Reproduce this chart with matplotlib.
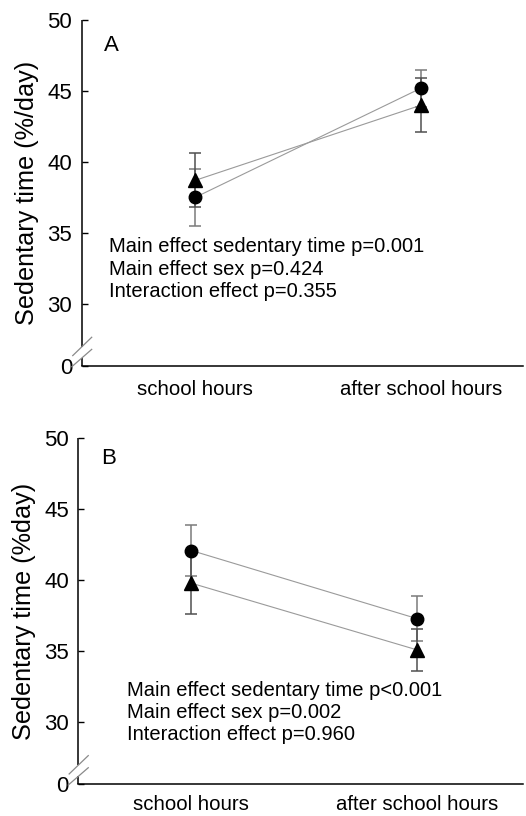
import matplotlib
matplotlib.use("Agg")
import matplotlib.pyplot as plt

plt.rcParams["font.family"] = ["Liberation Sans", "DejaVu Sans"]

# DATA
categories = ["school hours", "after school hours"]

# panel A
a_circle = [37.5, 45.2]
a_circle_err = [2.0, 1.3]
a_tri = [38.7, 44.0]
a_tri_err = [1.9, 1.9]
a_stats = ["Main effect sedentary time p=0.001",
           "Main effect sex p=0.424",
           "Interaction effect p=0.355"]

# panel B
b_circle = [42.1, 37.3]
b_circle_err = [1.8, 1.6]
b_tri = [39.8, 35.1]
b_tri_err = [2.2, 1.5]
b_stats = ["Main effect sedentary time p<0.001",
           "Main effect sex p=0.002",
           "Interaction effect p=0.960"]

yticks = [30, 35, 40, 45, 50]
YBOT = 25.63   # where the broken axis shows "0"

DPI = 100
fig = plt.figure(figsize=(5.26, 8.16), dpi=DPI)


def panel(rect, letter, circ, circ_err, tri, tri_err, stats, ylabel,
          xmax, letter_xy, stats_xy, xpad):
    ax = fig.add_axes(rect)
    x = list(range(len(categories)))

    ax.plot(x, circ, color="#9a9a9a", lw=0.8, zorder=2)
    ax.plot(x, tri, color="#9a9a9a", lw=0.8, zorder=2)
    ax.errorbar(x, circ, yerr=circ_err, fmt="none", ecolor="#7a7a7a",
                elinewidth=1.1, capsize=4, capthick=1.1, zorder=3)
    ax.errorbar(x, tri, yerr=tri_err, fmt="none", ecolor="#505050",
                elinewidth=1.1, capsize=4, capthick=1.1, zorder=3)
    ax.plot(x, circ, "o", color="black", ms=9, zorder=4)
    ax.plot(x, tri, "^", color="black", ms=9.5, zorder=4)

    ax.set_xlim(-0.5, xmax)
    ax.set_ylim(YBOT, 50)
    ax.set_yticks([YBOT] + yticks)
    ax.set_yticklabels(["0"] + [str(t) for t in yticks])
    ax.set_xticks(x)
    ax.set_xticklabels(categories)

    ax.tick_params(axis="y", direction="in", length=4, width=1.0,
                   pad=7, labelsize=16)
    ax.tick_params(axis="x", length=0, pad=xpad, labelsize=14.7)
    ax.set_ylabel(ylabel, fontsize=18.2, labelpad=6)

    for s in ["top", "right", "left"]:
        ax.spines[s].set_visible(False)
    ax.spines["bottom"].set_linewidth(1.1)

    # left axis drawn in two pieces with a gap for the break
    ax.plot([0, 0], [0, 0.024], transform=ax.transAxes, color="black",
            lw=1.1, clip_on=False, solid_capstyle="butt")
    ax.plot([0, 0], [0.056, 1], transform=ax.transAxes, color="black",
            lw=1.1, clip_on=False, solid_capstyle="butt")
    # break marks
    ax.plot([-0.021, 0.022], [0.030, 0.083], transform=ax.transAxes,
            color="#8a8a8a", lw=0.9, clip_on=False)
    ax.plot([-0.023, 0.022], [-0.002, 0.048], transform=ax.transAxes,
            color="#8a8a8a", lw=0.9, clip_on=False)

    ax.text(letter_xy[0], letter_xy[1], letter, transform=ax.transAxes,
            fontsize=16, va="top", ha="left")
    ax.text(stats_xy[0], stats_xy[1], "\n".join(stats), transform=ax.transAxes,
            fontsize=14.5, va="top", ha="left", linespacing=1.22)
    return ax


panel([0.1559, 0.5515, 0.8384, 0.424], "A", a_circle, a_circle_err,
      a_tri, a_tri_err, a_stats, "Sedentary time (%/day)",
      1.451, (0.050, 0.958), (0.062, 0.372), 10)

panel([0.1492, 0.0388, 0.845, 0.424], "B", b_circle, b_circle_err,
      b_tri, b_tri_err, b_stats, "Sedentary time (%day)",
      1.469, (0.052, 0.972), (0.110, 0.300), 7.5)

fig.savefig("out.png", dpi=DPI)
